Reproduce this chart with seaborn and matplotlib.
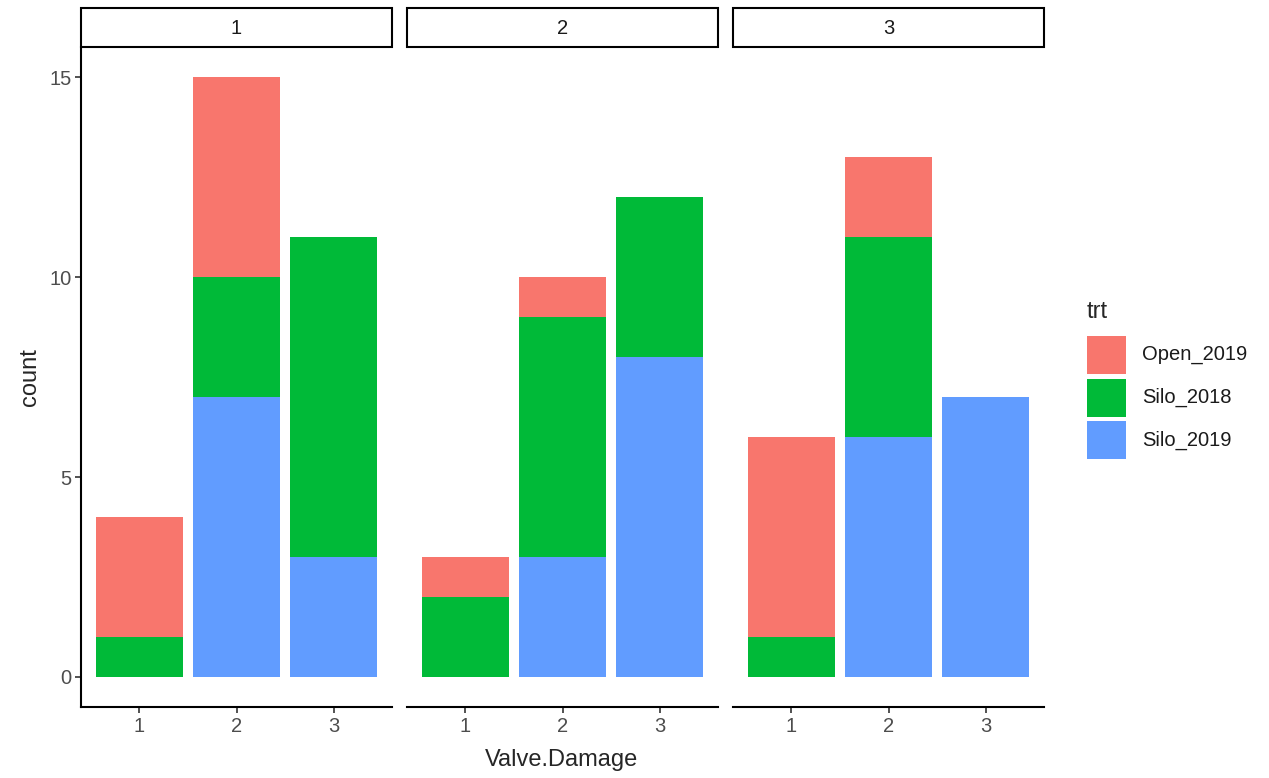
import matplotlib
matplotlib.use('Agg')
import matplotlib.pyplot as plt
from matplotlib.patches import Rectangle
import seaborn as sns
import pandas as pd

# данные: число по Valve.Damage для каждой панели (1, 2, 3)
panels = [1, 2, 3]
damage = [1, 2, 3]
trt_levels = ['Open_2019', 'Silo_2018', 'Silo_2019']
open_2019 = [[3, 5, 0], [1, 1, 0], [5, 2, 0]]
silo_2018 = [[1, 3, 8], [2, 6, 4], [1, 5, 0]]
silo_2019 = [[0, 7, 3], [0, 3, 8], [0, 6, 7]]
colors = ['#F8766D', '#00BA38', '#619CFF']

rows = []
for i, p in enumerate(panels):
    for j, d in enumerate(damage):
        for trt, vals in zip(trt_levels, [open_2019, silo_2018, silo_2019]):
            rows.append({'panel': p, 'Valve.Damage': d, 'trt': trt, 'count': vals[i][j]})
df = pd.DataFrame(rows)

sns.set_style('white')
plt.rcParams['font.family'] = ['Liberation Sans', 'DejaVu Sans']

W, H = 1269, 778
fig = plt.figure(figsize=(W / 100, H / 100), dpi=100)

panel_left = [81, 407, 733]
panel_w = 311
top, bottom = 47, 707
for i, p in enumerate(panels):
    ax = fig.add_axes([panel_left[i] / W, 1 - bottom / H, panel_w / W, (bottom - top) / H])
    sns.histplot(data=df[df['panel'] == p], x='Valve.Damage', weights='count', hue='trt',
                 hue_order=trt_levels, palette=colors, multiple='stack', discrete=True,
                 shrink=0.9, alpha=1, linewidth=0, legend=False, ax=ax)
    ax.set_xlim(0.4, 3.6)
    ax.set_ylim(-0.75, 15.75)
    ax.set_xticks(damage)
    ax.set_xticklabels([str(d) for d in damage])
    ax.set_xlabel('')
    ax.set_ylabel('')
    for s in ['top', 'right']:
        ax.spines[s].set_visible(False)
    ax.spines['bottom'].set_linewidth(1.5)
    ax.spines['bottom'].set_color('black')
    if i == 0:
        ax.spines['left'].set_linewidth(1.5)
        ax.spines['left'].set_color('black')
        ax.set_yticks([0, 5, 10, 15])
        ax.tick_params(axis='y', length=4, width=1.2, color='#333333', labelsize=14.5,
                       labelcolor='#4D4D4D', pad=3, left=True)
    else:
        ax.spines['left'].set_visible(False)
        ax.set_yticks([])
    ax.tick_params(axis='x', length=4, width=1.2, color='#333333', labelsize=14.5,
                   labelcolor='#4D4D4D', pad=3, bottom=True)

    # полоса с номером панели
    fig.patches.append(Rectangle((panel_left[i] / W, 1 - 47 / H), panel_w / W, 39 / H,
                                 transform=fig.transFigure, facecolor='white',
                                 edgecolor='black', linewidth=1.5))
    fig.text((panel_left[i] + panel_w / 2) / W, 1 - 28 / H, str(p), ha='center',
             va='center', fontsize=14.5, color='#1A1A1A')

fig.text(562 / W, 1 - 760 / H, 'Valve.Damage', ha='center', va='center', fontsize=17)
fig.text(30 / W, 1 - 377 / H, 'count', ha='center', va='center', rotation=90, fontsize=17)

# легенда вручную, как в ggplot
fig.text(1087 / W, 1 - 318 / H, 'trt', ha='left', va='baseline', fontsize=17)
for k, (lab, c) in enumerate(zip(trt_levels, colors)):
    y0 = 336 + k * 42.5
    fig.patches.append(Rectangle((1087 / W, 1 - (y0 + 38) / H), 39 / W, 38 / H,
                                 transform=fig.transFigure, facecolor=c, edgecolor='none'))
    fig.text(1142 / W, 1 - (y0 + 19) / H, lab, ha='left', va='center', fontsize=14.5,
             color='#1A1A1A')

fig.savefig('out.png', dpi=100)
